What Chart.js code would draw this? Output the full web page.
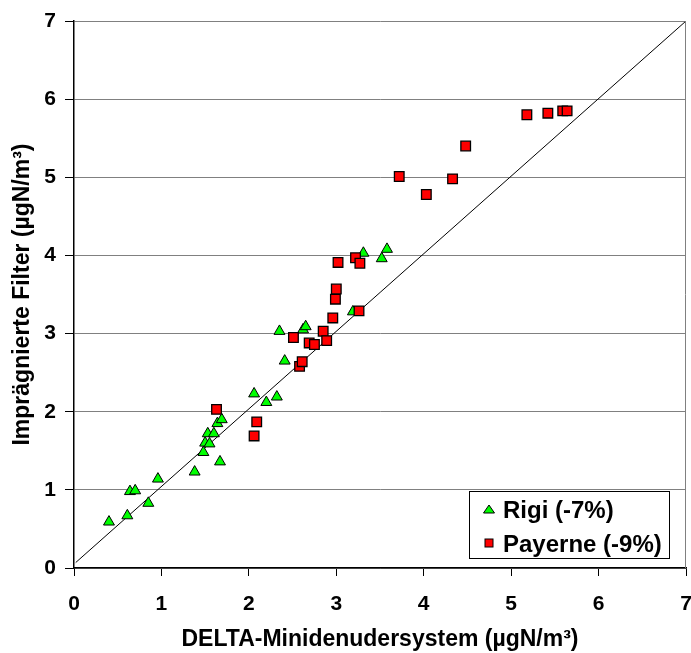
<!DOCTYPE html>
<html>
<head>
<meta charset="utf-8">
<script src="https://cdn.jsdelivr.net/npm/chart.js@4"></script>
<style>
  html, body { margin: 0; padding: 0; background: #fff; }
  #wrap { width: 691px; height: 653px; }
</style>
</head>
<body>
<div id="wrap"><canvas id="myChart" width="691" height="653"></canvas></div>
<script>
// Rigi (triangles)
const rigiX = [0.40, 0.61, 0.64, 0.70, 0.85, 0.96, 1.38, 1.48, 1.50, 1.55, 1.53, 1.60, 1.64, 1.69, 1.67,
               2.06, 2.20, 2.32, 2.41, 2.35, 2.62, 2.65, 3.19, 3.31, 3.52, 3.58];
const rigiY = [0.59, 0.67, 0.98, 0.99, 0.83, 1.14, 1.23, 1.48, 1.60, 1.59, 1.72, 1.72, 1.85, 1.90, 1.36,
               2.23, 2.12, 2.19, 2.65, 3.03, 3.05, 3.09, 3.28, 4.03, 3.96, 4.08];
// Payerne (squares)
const payerneX = [1.63, 2.06, 2.09, 2.51, 2.58, 2.61, 2.69, 2.75, 2.85, 2.89, 2.96, 2.99, 3.00, 3.02, 3.22,
                  3.27, 3.26, 3.72, 4.03, 4.33, 4.48, 5.18, 5.42, 5.59, 5.64];
const payerneY = [2.03, 1.69, 1.87, 2.95, 2.58, 2.64, 2.88, 2.86, 3.03, 2.91, 3.20, 3.44, 3.57, 3.91, 3.97,
                  3.90, 3.29, 5.01, 4.78, 4.98, 5.40, 5.80, 5.82, 5.85, 5.85];
// 1:1 line
const lineX = [0.02, 7];
const lineY = [0.07, 7];
const legendLabels = ['Rigi (-7%)', 'Payerne (-9%)'];

const toPts = (xs, ys) => xs.map((x, i) => ({ x: x, y: ys[i] }));
const FONT = 'Liberation Sans, Arial, sans-serif';

const frameAndLegend = {
  id: 'frameAndLegend',
  afterDatasetsDraw(chart) {
    const c = chart.ctx, a = chart.chartArea;
    c.save();
    // right frame line
    c.strokeStyle = '#808080';
    c.lineWidth = 1;
    c.beginPath();
    c.moveTo(a.right - 0.5, a.top);
    c.lineTo(a.right - 0.5, a.bottom);
    c.stroke();

    // legend box
    c.fillStyle = '#fff';
    c.fillRect(469.5, 491.5, 200, 67);
    c.strokeStyle = '#000';
    c.strokeRect(469.5, 491.5, 200, 67);

    // triangle marker
    c.fillStyle = '#00ff00';
    c.lineWidth = 1;
    c.beginPath();
    c.moveTo(489, 505);
    c.lineTo(494.5, 513);
    c.lineTo(483.5, 513);
    c.closePath();
    c.fill();
    c.stroke();
    // square marker
    c.fillStyle = '#ff0000';
    c.fillRect(485, 539, 8, 8);
    c.strokeRect(485, 539, 8, 8);

    c.fillStyle = '#000';
    c.font = 'bold 24px ' + FONT;
    c.textBaseline = 'alphabetic';
    c.textAlign = 'left';
    c.fillText(legendLabels[0], 503, 517.5);
    c.fillText(legendLabels[1], 503, 552);
    c.restore();
  }
};

const ctx = document.getElementById('myChart');

const chart = new Chart(ctx, {
  type: 'scatter',
  data: {
    datasets: [{
      label: legendLabels[0],
      data: toPts(rigiX, rigiY),
      pointStyle: 'triangle',
      pointRadius: 6.3,
      backgroundColor: '#00ff00',
      borderColor: '#000',
      borderWidth: 1,
      order: 2
    }, {
      label: legendLabels[1],
      data: toPts(payerneX, payerneY),
      pointStyle: 'rect',
      pointRadius: 6.8,
      backgroundColor: '#ff0000',
      borderColor: '#000',
      borderWidth: 1.3,
      order: 1
    }, {
      label: '1:1',
      data: toPts(lineX, lineY),
      showLine: true,
      pointRadius: 0,
      borderColor: '#000',
      borderWidth: 1,
      order: 3
    }]
  },
  options: {
    responsive: false,
    animation: false,
    layout: { autoPadding: false, padding: { top: 21, right: 5, left: 0, bottom: 0 } },
    plugins: {
      legend: { display: false },
      tooltip: { enabled: false }
    },
    scales: {
      x: {
        type: 'linear',
        min: 0,
        max: 7,
        afterFit: (s) => { s.height = 85; s.paddingRight = 0; s.paddingLeft = 0; },
        ticks: { stepSize: 1, color: '#000', padding: 16, font: { family: FONT, size: 21, weight: 'bold' } },
        grid: { drawOnChartArea: false, tickLength: 8, tickColor: '#000', color: '#000' },
        border: { color: '#000', width: 1.5 },
        title: {
          display: true,
          text: 'DELTA-Minidenudersystem (µgN/m³)',
          color: '#000',
          padding: { top: 0, bottom: 0 },
          font: { family: FONT, size: 23, weight: 'bold' }
        }
      },
      y: {
        type: 'linear',
        min: 0,
        max: 7,
        afterFit: (s) => { s.width = 74; s.paddingTop = 0; s.paddingBottom = 0; },
        ticks: { stepSize: 1, color: '#000', padding: 9, font: { family: FONT, size: 21, weight: 'bold' } },
        grid: { color: '#808080', lineWidth: 1, tickLength: 9, tickColor: '#000' },
        border: { color: '#000', width: 1.5 },
        title: {
          display: true,
          text: 'Imprägnierte Filter (µgN/m³)',
          color: '#000',
          padding: { top: 9, bottom: 0 },
          font: { family: FONT, size: 23, weight: 'bold' }
        }
      }
    }
  },
  plugins: [frameAndLegend]
});
</script>
</body>
</html>
